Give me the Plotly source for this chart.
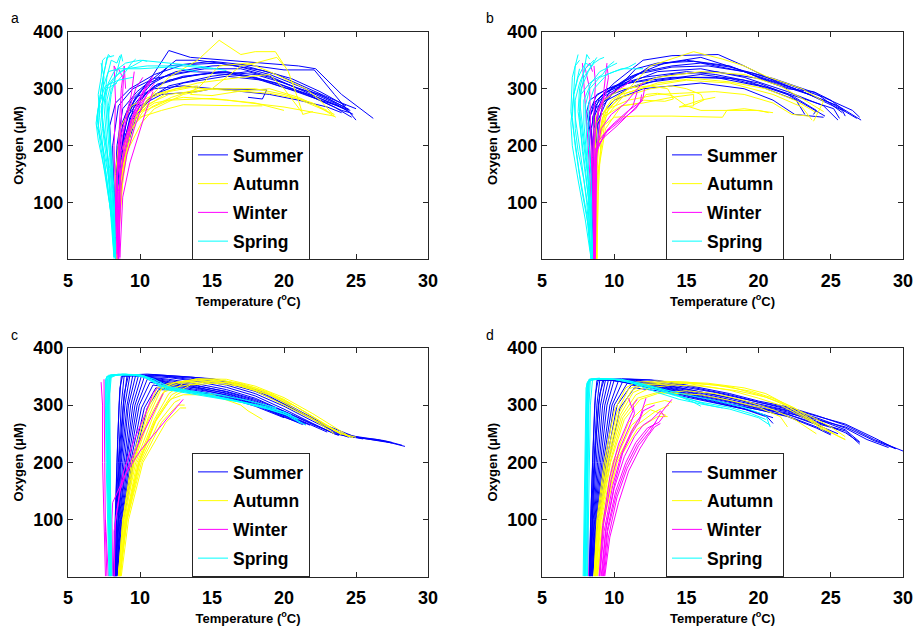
import plotly.graph_objects as go

# ---- season styling ----
SEASONS = ["Summer", "Autumn", "Winter", "Spring"]
SEASON_COLORS = ["#0000ff", "#ffff00", "#ff00ff", "#00ffff"]
PANEL_LABELS = ["a", "b", "c", "d"]
X_TICKS = [5, 10, 15, 20, 25, 30]
Y_TICKS = [100, 200, 300, 400]

# ---- panel a: profiles as (temperature degC, oxygen uM) ----
SUMMER_A = [
    [(8.4, 3), (8.3, 60), (8.5, 150), (8.9, 230), (9.6, 280), (10.8, 320), (12, 367), (13.5, 355), (15, 352), (17, 348), (19, 345), (21, 340), (22.2, 335), (24, 290), (26.2, 248)],
    [(8.3, 5), (8.2, 90), (8.6, 180), (9.2, 260), (10.5, 300), (12, 340), (15, 348), (18, 340), (20, 333), (22.1, 333), (23.5, 290), (25, 245)],
    [(8.3, 2), (8.4, 80), (8.7, 180), (9.3, 250), (10.5, 295), (12, 315), (14, 325), (16, 330), (18, 320), (20, 305), (22, 285), (24, 262), (24.6, 258)],
    [(8.3, 2), (8.2, 100), (8.4, 190), (9.0, 255), (10.2, 300), (12, 325), (14.5, 335), (17, 335), (19, 322), (21, 300), (23, 278), (24.4, 262)],
    [(8.4, 2), (8.5, 120), (8.9, 210), (9.6, 270), (11, 305), (13, 320), (15.5, 330), (18, 325), (20, 310), (22, 292), (23.5, 275), (24.8, 255)],
    [(8.3, 2), (8.3, 140), (8.6, 230), (9.4, 280), (10.6, 310), (12.5, 330), (15, 340), (17, 342), (19.5, 325), (21.5, 303), (23.5, 280), (25, 265)],
    [(8.4, 2), (8.6, 100), (9.0, 190), (9.8, 255), (11, 290), (13, 310), (16, 322), (18.5, 315), (20.5, 298), (22.5, 280), (24, 268), (24.6, 262)],
    [(8.3, 2), (8.2, 120), (8.1, 200), (8.5, 270), (9.5, 300), (11, 318), (13.5, 330), (16, 328), (18, 318), (20, 302), (22, 288), (23.8, 270)],
    [(8.4, 2), (8.5, 100), (8.8, 170), (9.5, 240), (10.5, 280), (12, 305), (15, 322), (17.5, 330), (19, 320), (21, 300), (22.5, 290), (24.2, 268)],
    [(8.3, 2), (8.2, 70), (8.0, 180), (7.9, 235), (8.3, 275), (9.3, 300), (11, 325), (13, 342), (15.5, 345), (17, 338), (19, 325), (21, 305), (23, 283), (24.5, 264)],
    [(8.4, 2), (8.5, 120), (9.0, 220), (10, 270), (11.5, 290), (14, 295), (15, 300), (17.5, 298), (18.8, 298), (18.5, 282), (17.5, 285)],
    [(8.3, 2), (8.4, 150), (8.8, 240), (9.7, 285), (11, 300), (13, 305), (16, 298), (19, 290), (21, 280), (23, 268), (24, 258)],
    [(8.4, 2), (8.3, 110), (8.4, 200), (8.8, 265), (9.8, 295), (11.5, 330), (12.5, 350), (14, 350), (16, 343), (18.5, 332), (20.5, 318), (22.5, 295), (24.3, 270)],
    [(8.3, 2), (8.5, 160), (9.1, 250), (10.1, 285), (11.2, 308), (13, 322), (15, 327), (17.5, 322), (19.5, 310), (21.5, 292), (23.5, 268), (24.7, 250)],
]
AUTUMN_A = [
    [(8.4, 2), (8.5, 100), (8.9, 200), (9.5, 250), (10.5, 280), (12, 320), (14, 350), (15.5, 385), (17, 360), (18, 365), (19.4, 365), (20.3, 330), (21, 280), (21.3, 255), (22, 260)],
    [(8.3, 2), (8.5, 120), (9.0, 210), (9.8, 255), (11, 275), (13, 285), (16, 280), (20, 268), (23.5, 252)],
    [(8.4, 2), (8.6, 130), (9.2, 220), (10.2, 260), (12, 280), (15, 283), (18, 275), (20, 262)],
    [(8.4, 2), (8.8, 150), (9.4, 230), (10.0, 250), (11.5, 262), (13, 272), (17, 270), (18.5, 270)],
    [(8.5, 2), (8.4, 100), (8.9, 200), (9.5, 245), (10.5, 270), (12, 295), (13.5, 302), (16, 298), (19, 292), (21, 282), (23.5, 255)],
    [(8.4, 2), (8.7, 140), (9.3, 230), (10.3, 270), (12, 290), (15, 300), (18, 300), (20, 290), (22, 275), (23.6, 250)],
    [(8.4, 2), (8.3, 150), (8.6, 230), (9.4, 270), (11, 290), (14, 310), (17, 320), (19, 325), (20, 300), (21.2, 260)],
    [(8.4, 2), (8.6, 100), (9.1, 190), (10.1, 240), (11, 265), (13, 290), (15, 300), (17, 340), (18, 345), (19.5, 355), (20, 340)],
    [(8.5, 2), (8.7, 170), (9.5, 250), (10.8, 285), (12.5, 300), (14, 305), (13.5, 290), (15, 288), (17, 296), (19, 300), (21, 285), (23, 262)],
    [(8.4, 2), (8.9, 170), (9.7, 240), (10.8, 268), (12.2, 285), (14, 300), (15.5, 340), (17.5, 345), (19, 330), (21.5, 300), (22.5, 280), (23.4, 255)],
]
WINTER_A = [
    [(8.5, 2), (8.3, 60), (8.4, 140), (8.7, 190), (9.3, 240), (9.9, 280), (10.4, 305), (10.9, 322)],
    [(8.6, 5), (8.5, 90), (8.7, 160), (9.2, 215), (9.7, 255), (10.3, 295), (10.8, 315)],
    [(8.4, 10), (8.5, 120), (8.9, 190), (9.5, 250), (10.1, 290), (10.9, 318)],
    [(8.5, 2), (8.3, 100), (8.2, 200), (8.3, 280), (8.2, 340), (8.4, 330)],
    [(8.5, 2), (8.6, 100), (8.6, 200), (8.8, 280), (8.9, 340), (9.0, 300)],
    [(8.5, 2), (8.4, 150), (8.6, 210), (9.0, 250), (9.4, 290), (9.6, 330)],
    [(8.5, 2), (8.7, 130), (9.1, 185), (9.6, 230), (10.2, 275), (10.7, 300), (11.0, 310)],
    [(8.3, 40), (8.4, 150), (8.8, 220), (9.2, 260), (9.7, 300), (10.2, 320)],
    [(8.6, 2), (8.8, 110), (9.3, 170), (9.9, 220), (10.4, 260), (10.9, 295)],
    [(8.4, 2), (8.4, 100), (8.5, 200), (8.6, 250), (8.7, 300), (8.8, 320), (8.5, 335)],
    [(8.5, 2), (8.6, 140), (8.9, 200), (9.4, 245), (9.9, 268), (10.5, 290), (11.0, 300)],
]
SPRING_A = [
    [(8.3, 2), (8.0, 80), (7.5, 160), (7.1, 230), (7.2, 280), (7.5, 330), (7.8, 360), (8.0, 355)],
    [(8.3, 2), (8.1, 60), (7.7, 140), (7.3, 210), (7.0, 250), (7.3, 300), (7.6, 340), (7.7, 355), (8.2, 358)],
    [(8.2, 5), (8.0, 100), (7.8, 170), (7.6, 230), (7.5, 270), (7.7, 320), (8.0, 350), (8.4, 345), (8.6, 358)],
    [(8.3, 2), (8.1, 90), (7.9, 180), (7.7, 240), (7.6, 280), (7.8, 310), (8.2, 330), (9.0, 345), (10, 350), (12, 345), (14, 340), (16, 332)],
    [(8.3, 2), (8.2, 80), (7.9, 160), (7.5, 220), (7.3, 260), (7.6, 300), (8.2, 320), (9.0, 335), (10.5, 340), (13, 340), (15, 335)],
    [(8.3, 2), (8.2, 120), (8.0, 190), (7.8, 240), (7.7, 280), (8.0, 310), (8.6, 330), (9.5, 340), (10.2, 350), (10.5, 348)],
    [(8.2, 2), (7.9, 100), (7.5, 180), (7.2, 250), (7.1, 290), (7.3, 320), (7.4, 350), (7.6, 355)],
    [(8.3, 2), (8.1, 60), (7.6, 150), (7.1, 210), (6.95, 240), (7.2, 280), (7.6, 305), (8.5, 315), (9.5, 320)],
    [(8.3, 2), (8.2, 100), (8.0, 170), (7.9, 220), (7.8, 270), (8.0, 300), (8.5, 315), (9.0, 330), (9.4, 345), (9.7, 352)],
    [(8.3, 2), (8.0, 110), (7.7, 190), (7.4, 250), (7.4, 300), (7.8, 330), (8.5, 335), (10, 335), (12, 338), (14, 330)],
    [(8.2, 5), (8.0, 90), (7.7, 170), (7.4, 230), (7.3, 270), (7.7, 300), (8.4, 310)],
    [(8.3, 2), (8.1, 120), (7.9, 200), (7.8, 250), (8.0, 290), (8.3, 320), (8.5, 340), (8.7, 360), (8.8, 348)],
    [(8.3, 2), (8.1, 70), (7.8, 150), (7.4, 200), (7.0, 235), (7.1, 265), (7.4, 290), (7.5, 320), (7.3, 345)],
]

# ---- panel b ----
SUMMER_B = [
    [(8.6, 2), (8.6, 100), (8.5, 200), (8.3, 250), (8.8, 280), (10, 310), (12, 350), (14, 358), (17.2, 360), (19, 340), (21, 315), (23, 295), (25.5, 270), (27.1, 245)],
    [(8.6, 2), (8.7, 120), (8.6, 230), (9.0, 270), (10.5, 305), (12.5, 340), (15, 350), (18, 340), (20, 320), (22.5, 300), (25, 275), (26.8, 248)],
    [(8.5, 2), (8.4, 150), (8.2, 240), (8.6, 275), (9.5, 295), (11, 320), (13.5, 345), (16, 355), (18.5, 335), (21, 310), (23.5, 290), (25.8, 262), (26, 252)],
    [(8.6, 2), (8.5, 160), (8.6, 250), (9.2, 285), (10.5, 305), (13, 330), (16, 335), (19, 320), (22, 295), (24.5, 270), (25.5, 245)],
    [(8.7, 2), (8.6, 130), (8.8, 240), (9.5, 280), (11, 300), (13, 315), (16, 325), (19, 315), (22, 290), (24.2, 258), (24.6, 252)],
    [(8.6, 2), (8.5, 180), (8.3, 260), (8.8, 290), (10, 305), (12, 320), (15, 330), (17, 325), (20, 310), (22.5, 285), (24, 262), (23.8, 255)],
    [(8.6, 2), (8.7, 150), (9.0, 250), (10, 280), (12, 300), (14, 305), (16, 310), (19, 300), (21, 280), (22.5, 255), (24.5, 250)],
    [(8.6, 2), (8.5, 200), (8.7, 270), (9.5, 295), (11, 310), (14, 325), (17, 330), (20, 318), (22, 300), (23.8, 295), (25, 280), (26, 260)],
    [(8.7, 2), (8.6, 150), (8.4, 230), (8.7, 265), (9.8, 290), (12, 310), (15, 320), (18, 318), (21, 300), (23, 283), (25.2, 265), (25.6, 248)],
    [(8.6, 2), (8.6, 100), (8.7, 220), (9.2, 270), (10.2, 300), (11.5, 335), (13, 345), (15.5, 348), (18, 338), (21, 318), (24, 292), (25.8, 258)],
    [(8.7, 2), (8.8, 150), (8.5, 250), (9.0, 285), (10.5, 310), (12, 330), (14, 340), (16, 345), (19, 330), (22, 305), (24, 285)],
    [(8.6, 2), (8.4, 120), (8.5, 200), (8.1, 260), (8.3, 280), (9.5, 300), (11, 310), (14, 320), (17, 320), (20, 305), (22.6, 280), (23.2, 255)],
    [(8.6, 2), (8.7, 180), (8.9, 260), (9.8, 300), (11.5, 325), (14, 338), (16.5, 340), (19.5, 328), (22, 308), (24.5, 285), (26.5, 262), (27, 250)],
]
AUTUMN_B = [
    [(8.8, 2), (8.7, 100), (8.8, 200), (9.2, 250), (10.5, 270), (12, 275), (14, 285), (15.5, 290), (15.5, 270), (14.5, 268), (16, 280), (17, 285)],
    [(8.7, 2), (8.8, 150), (9.0, 230), (10, 250), (11.5, 252), (14, 252), (17.5, 250), (17.8, 262), (19, 265), (21, 258)],
    [(8.7, 2), (8.6, 150), (8.8, 240), (9.8, 280), (11, 300), (12.5, 340), (15.5, 365), (17.5, 352), (19, 340), (20.5, 322), (23, 300), (24.5, 278), (23.8, 243)],
    [(8.7, 2), (8.8, 180), (9.3, 260), (10.5, 285), (12.5, 300), (14, 305), (15, 300), (16, 290), (16.2, 280), (15.5, 272)],
    [(8.8, 2), (8.9, 120), (9.1, 220), (9.6, 265), (11, 280), (13, 290), (14.5, 292), (17, 295), (19, 290), (21, 275), (22.3, 255), (23.5, 252)],
    [(8.7, 2), (8.7, 170), (9.2, 250), (10.5, 290), (12.5, 305), (15, 315), (18, 310), (21, 290), (23, 268), (23.7, 245)],
    [(8.8, 2), (8.8, 140), (9.4, 230), (10.5, 270), (11.8, 275), (12.2, 290), (13, 292), (14, 288), (15, 270), (16, 262), (20, 262), (20.7, 258)],
    [(8.7, 2), (8.8, 190), (9.5, 270), (11, 300), (13, 320), (16, 330), (19, 325), (21.5, 305), (23, 283), (24.5, 260)],
    [(8.7, 2), (8.6, 140), (8.7, 250), (9.3, 280), (10.5, 300), (12.5, 305), (13.7, 300), (14.1, 282), (13.5, 278), (12, 280)],
    [(8.8, 2), (8.9, 160), (9.4, 250), (10.8, 292), (13, 310), (15.5, 318), (18, 312), (20.5, 300), (22.5, 280), (24, 258)],
]
WINTER_B = [
    [(8.6, 2), (8.6, 100), (8.7, 180), (8.9, 200), (9.5, 225), (10.5, 245), (11.5, 265), (12, 285), (12.1, 300)],
    [(8.6, 2), (8.6, 150), (8.7, 195), (9.3, 215), (10.2, 235), (11, 255), (11.8, 275), (11.9, 290)],
    [(8.7, 2), (8.7, 120), (8.8, 205), (9.6, 230), (10.6, 250), (11.3, 270), (11.6, 295)],
    [(8.5, 2), (8.4, 100), (8.2, 200), (8.0, 280), (7.9, 320), (7.8, 345)],
    [(8.6, 2), (8.5, 120), (8.4, 230), (8.3, 300), (8.0, 335), (8.3, 345), (8.5, 330)],
    [(8.6, 2), (8.7, 160), (9.0, 240), (9.2, 270), (9.3, 300), (9.4, 330), (9.5, 345)],
    [(8.6, 2), (8.6, 200), (8.8, 250), (9.2, 280), (10, 295), (10.7, 305), (11.2, 315)],
    [(8.7, 2), (8.7, 180), (9.1, 230), (9.8, 255), (10.8, 275), (11.6, 300), (12, 310)],
    [(8.6, 2), (8.5, 180), (8.6, 260), (8.7, 310), (8.6, 340)],
    [(8.7, 2), (8.8, 190), (9.3, 220), (10, 240), (11, 262), (12, 280)],
    [(8.6, 2), (8.6, 210), (8.9, 265), (9.4, 290), (9.6, 320), (9.5, 340)],
]
SPRING_B = [
    [(8.4, 2), (8.2, 60), (7.7, 130), (7.3, 200), (7.1, 250), (7.2, 300), (7.3, 340), (7.6, 350)],
    [(8.4, 2), (8.1, 80), (7.6, 150), (7.2, 220), (7.0, 260), (7.1, 320), (7.4, 350), (7.5, 360)],
    [(8.5, 2), (8.3, 90), (8.0, 160), (7.7, 220), (7.5, 260), (7.6, 300), (7.9, 330), (8.1, 360), (8.3, 352)],
    [(8.5, 2), (8.3, 100), (8.1, 180), (7.9, 240), (7.9, 280), (8.4, 310), (9.0, 330), (9.8, 340), (10.2, 345)],
    [(8.4, 2), (8.2, 110), (7.8, 190), (7.6, 250), (7.7, 300), (8.2, 330), (8.6, 345), (9.0, 352), (9.3, 355)],
    [(8.5, 2), (8.3, 130), (8.1, 210), (8.0, 270), (8.3, 300), (9.0, 320), (10, 330), (11, 338), (11.5, 345)],
    [(8.4, 2), (8.0, 70), (7.5, 140), (7.1, 200), (7.0, 240), (7.2, 290), (7.6, 335)],
    [(8.5, 2), (8.4, 80), (8.1, 170), (7.8, 230), (7.6, 280), (7.9, 320), (8.4, 340), (8.8, 355)],
    [(8.5, 2), (8.4, 150), (8.2, 230), (8.2, 270), (8.6, 300), (9.5, 325), (10.5, 335), (12, 335)],
    [(8.4, 2), (8.1, 100), (7.7, 180), (7.3, 250), (7.2, 290), (7.5, 320), (8.0, 345), (8.4, 340)],
    [(8.5, 2), (8.3, 120), (7.9, 200), (7.6, 260), (7.7, 290), (8.3, 310), (9.2, 325), (9.6, 340), (10, 348)],
    [(8.4, 2), (8.2, 90), (7.9, 140), (7.5, 190), (7.3, 230), (7.3, 280), (7.6, 310), (8.0, 335), (8.6, 350)],
]

# ---- panel c (model) ----
SUMMER_C = [
    [(8.15, 2), (8.25, 100), (8.4, 200), (8.55, 300), (8.7, 350), (11, 353), (13.5, 349), (15, 345), (17, 335), (19, 315), (21, 288), (23, 262), (24.5, 245), (26.5, 240), (28.4, 228)],
    [(8.2, 2), (8.3, 100), (8.5, 200), (8.7, 300), (8.9, 351), (11.5, 351), (14, 343), (16, 335), (18, 320), (20, 298), (22, 272), (24, 248), (26, 240), (27.5, 234)],
    [(8.2, 2), (8.35, 100), (8.6, 200), (8.85, 300), (9.1, 352), (12, 348), (14, 341), (16, 331), (18, 316), (20, 293), (22, 268), (23.5, 250), (25.5, 241)],
    [(8.25, 2), (8.4, 100), (8.65, 200), (8.95, 300), (9.3, 352), (12, 345), (14, 337), (16, 327), (18, 312), (20, 290), (21.5, 273), (23, 256), (24.5, 244)],
    [(8.25, 2), (8.45, 100), (8.7, 200), (9.1, 300), (9.5, 352), (12, 343), (14, 334), (16, 323), (18, 308), (20, 286), (21.5, 270), (23, 253)],
    [(8.3, 2), (8.5, 100), (8.8, 200), (9.2, 300), (9.7, 352), (12, 341), (14, 331), (16, 320), (18, 304), (20, 283), (21.5, 268)],
    [(8.3, 2), (8.5, 100), (8.9, 200), (9.35, 300), (9.9, 352), (12, 339), (14, 329), (16, 317), (18, 301), (20, 280), (21.3, 266)],
    [(8.3, 2), (8.55, 100), (9.0, 200), (9.5, 300), (10.1, 351), (12, 338), (14, 333), (16, 324), (18, 310), (20, 289), (22, 266), (23.8, 247)],
    [(8.35, 2), (8.6, 100), (9.05, 200), (9.65, 300), (10.3, 349), (12, 336), (14, 330), (16, 321), (18, 306), (20, 285), (21.8, 265)],
    [(8.35, 2), (8.65, 100), (9.15, 200), (9.8, 300), (10.5, 345), (12, 335), (14, 327), (16, 318), (18, 302), (20, 281), (21.5, 266)],
    [(8.35, 2), (8.7, 100), (9.25, 200), (9.95, 300), (10.7, 340), (12, 333), (14, 325), (16, 315), (18, 300), (20, 279), (21, 270)],
    [(8.4, 2), (8.75, 100), (9.35, 200), (10.1, 295), (10.9, 335), (12, 331), (14, 323), (16, 313), (18, 298), (20, 278)],
    [(8.4, 2), (8.8, 100), (9.45, 200), (10.3, 295), (11.1, 330), (12.5, 328), (14.5, 320), (16.5, 310), (18.5, 296), (20, 283)],
    [(8.4, 2), (8.85, 100), (9.55, 200), (10.5, 295), (11.3, 327), (12.5, 326), (14.5, 318), (17, 306), (19, 292), (20.5, 278)],
    [(8.2, 2), (8.3, 120), (8.45, 240), (8.6, 330), (8.8, 352), (10.5, 354), (13, 350), (15, 346), (17, 336), (19, 318), (21, 291), (23, 264), (24.8, 246), (27, 238), (28.2, 230)],
    [(8.25, 2), (8.4, 120), (8.6, 230), (8.9, 320), (9.2, 352), (11, 352), (13.5, 347), (16, 338), (18, 324), (20, 302), (22, 276), (23.5, 254), (25.5, 242), (27.5, 235)],
]
AUTUMN_C = [
    [(8.5, 2), (8.8, 100), (9.5, 200), (10.6, 280), (11.5, 330), (12.5, 340), (14, 345), (16, 342), (18, 330), (20, 310), (22, 280), (23.5, 255), (24.8, 243)],
    [(8.5, 2), (8.9, 100), (9.7, 200), (10.9, 280), (11.8, 330), (13, 340), (15, 345), (17, 338), (19, 322), (21, 295), (22.5, 272), (24, 248)],
    [(8.6, 2), (9.0, 100), (9.8, 200), (11.0, 275), (12.0, 320), (13, 338), (15, 342), (17, 335), (19, 318), (21, 290), (23, 262), (24.5, 245)],
    [(8.6, 2), (9.0, 100), (9.9, 200), (11.2, 280), (12.2, 318), (13.5, 335), (16, 340), (18, 325), (20, 300), (22, 275), (23.5, 250)],
    [(8.6, 2), (9.1, 100), (10.0, 200), (11.3, 270), (12.4, 305), (12.8, 310)],
    [(8.6, 2), (9.1, 100), (10.1, 200), (11.5, 270), (12.6, 300), (13.1, 300)],
    [(8.7, 2), (9.2, 100), (10.2, 200), (11.8, 270), (12.8, 295), (13.2, 295)],
    [(8.5, 2), (8.8, 100), (9.4, 200), (10.3, 280), (11.2, 330), (12, 338), (14, 343), (16.5, 338), (18.5, 325), (20.5, 302), (22, 280), (24, 250), (25, 244)],
    [(8.6, 2), (8.95, 100), (9.6, 200), (10.6, 275), (11.6, 322), (12.6, 332), (14.5, 340), (17, 333), (19, 318), (20.5, 300)],
    [(8.6, 2), (9.05, 100), (9.9, 200), (11.0, 270), (12.1, 310), (13, 318), (15, 318), (17, 300), (17.5, 290), (18.5, 275)],
    [(8.55, 2), (8.85, 100), (9.55, 200), (10.5, 285), (11.3, 325), (12.3, 338), (14, 346), (16, 345), (18, 333), (20, 313), (22, 285), (23.5, 262), (24.5, 246)],
    [(8.65, 2), (9.05, 100), (9.95, 200), (11.1, 272), (12.0, 306), (12.5, 318), (13.2, 326)],
]
WINTER_C = [
    [(7.6, 2), (7.5, 100), (7.4, 200), (7.4, 300), (7.3, 340)],
    [(7.7, 2), (7.6, 80), (7.55, 200), (7.5, 300), (7.5, 345)],
    [(7.8, 2), (7.7, 50), (7.6, 100)],
    [(8.1, 2), (8.05, 100), (8.1, 130), (9.0, 180), (10.0, 220), (11.5, 265), (13.0, 310)],
    [(8.2, 2), (8.2, 80), (8.6, 150), (9.3, 200), (10.2, 250), (11.0, 290), (11.6, 320)],
    [(8.2, 2), (8.3, 100), (8.8, 180), (9.6, 240), (10.3, 280), (10.9, 320), (11.2, 330)],
]
SPRING_C = [
    [(7.9, 2), (7.8, 100), (7.7, 200), (7.65, 300), (7.6, 345), (7.8, 352), (9, 353), (10, 352), (11, 340), (11.6, 328), (13, 322), (15, 314), (17, 305), (19, 292), (20.5, 280), (21.5, 265)],
    [(7.95, 2), (7.85, 100), (7.75, 200), (7.7, 300), (7.7, 348), (8, 353), (9.5, 352), (10.5, 348), (11.5, 335), (12.5, 328), (14, 322), (16, 312), (18, 300), (20, 288), (21, 275)],
    [(8.0, 2), (7.9, 100), (7.8, 200), (7.75, 300), (7.8, 350), (8.5, 354), (10, 353), (11, 345), (12, 332), (13.5, 325), (15.5, 318), (17.5, 308), (19.5, 295)],
    [(8.0, 2), (7.95, 100), (7.85, 200), (7.8, 300), (7.9, 352), (9, 354), (10.2, 350), (11.2, 336), (12, 328), (14, 320), (16, 310), (18, 300), (20, 285), (21.2, 268)],
    [(7.85, 2), (7.75, 100), (7.65, 200), (7.6, 300), (7.6, 340), (7.7, 350), (8.5, 352)],
    [(7.9, 2), (7.85, 100), (7.8, 200), (7.8, 300), (7.85, 345), (8.2, 353), (9.8, 353), (11.0, 342), (11.8, 330), (13, 325), (15, 316), (16.5, 308)],
    [(8.05, 2), (8.0, 100), (7.9, 200), (7.85, 300), (7.95, 350), (8.8, 354), (10.3, 351), (11.3, 334), (12.5, 327), (14.5, 318), (17, 306), (19, 296), (20.5, 283)],
    [(7.95, 2), (7.9, 100), (7.85, 200), (7.75, 300), (7.75, 346), (8.1, 352), (9.2, 353)],
    [(8.0, 2), (7.95, 150), (7.9, 250), (7.9, 320), (8.0, 348), (8.4, 353)],
    [(7.9, 2), (7.8, 150), (7.7, 250), (7.65, 320), (7.7, 350)],
]

# ---- panel d (model) ----
SUMMER_D = [
    [(8.25, 2), (8.35, 100), (8.5, 200), (8.65, 300), (8.8, 343), (11, 345), (13, 343), (15, 335), (18, 320), (20, 307), (22, 297), (24, 282), (26, 265), (28, 240), (30, 220)],
    [(8.3, 2), (8.4, 100), (8.6, 200), (8.8, 300), (9.0, 343), (11.5, 344), (14, 335), (17, 322), (20, 305), (22, 293), (24, 278), (26, 260), (27.5, 240), (29, 226)],
    [(8.3, 2), (8.45, 100), (8.65, 200), (8.9, 300), (9.2, 344), (12, 340), (15, 328), (18, 313), (20, 300), (22, 290), (24, 272), (26, 252), (27, 235)],
    [(8.35, 2), (8.5, 100), (8.75, 200), (9.05, 300), (9.4, 344), (12, 337), (15, 323), (18, 306), (20, 296), (22, 284), (24, 266), (25.5, 250)],
    [(8.35, 2), (8.55, 100), (8.85, 200), (9.2, 300), (9.6, 344), (12.5, 333), (15, 320), (18, 302), (20, 292), (22, 280), (24, 260), (25, 248)],
    [(8.4, 2), (8.6, 100), (8.95, 200), (9.35, 300), (9.8, 344), (13, 328), (15, 317), (17, 306), (19, 294), (20.5, 282), (21, 268)],
    [(8.4, 2), (8.65, 100), (9.05, 200), (9.5, 300), (10.0, 344), (12, 339), (15, 326), (18, 310), (20, 299), (22, 288), (24, 270), (26, 255), (27, 232)],
    [(8.45, 2), (8.7, 100), (9.15, 200), (9.7, 300), (10.3, 343), (12.5, 336), (15, 324), (18, 307), (20, 296), (22, 286), (24, 275), (26, 262), (28, 238), (29.5, 224)],
    [(8.45, 2), (8.75, 100), (9.25, 200), (9.85, 300), (10.6, 342), (12.5, 334), (15, 321), (18, 304), (20, 294), (22, 284), (24, 268), (25.5, 258)],
    [(8.5, 2), (8.8, 100), (9.35, 200), (10.0, 300), (10.9, 338), (13, 330), (15, 319), (18, 302), (20, 292), (22, 281), (24, 262), (25, 250)],
    [(8.5, 2), (8.85, 100), (9.45, 200), (10.2, 300), (11.2, 335), (13, 328), (15, 316), (17.5, 302), (19.5, 290), (21, 278)],
    [(8.5, 2), (8.9, 100), (9.6, 200), (10.4, 295), (11.4, 330), (13, 325), (15, 314), (17, 304), (19, 293), (20.5, 280)],
    [(8.3, 2), (8.4, 120), (8.55, 230), (8.7, 320), (8.9, 344), (10.5, 346), (12.5, 344), (15, 333), (18, 318), (20, 305), (22, 295), (24, 281), (26, 267), (28, 243), (29.5, 224)],
    [(8.35, 2), (8.5, 120), (8.7, 230), (9.0, 320), (9.3, 344), (11.5, 343), (14, 333), (17, 318), (20, 302), (22, 291), (24, 276), (26, 257), (27, 236)],
]
AUTUMN_D = [
    [(8.6, 2), (8.8, 100), (9.3, 200), (10.0, 290), (10.8, 330), (11.5, 340), (13, 342), (15, 340), (18, 332), (20, 318), (21.5, 305), (22.5, 290), (24, 268), (25.5, 246), (26, 240)],
    [(8.65, 2), (8.9, 100), (9.5, 200), (10.3, 285), (11.2, 325), (12, 335), (14, 340), (17, 335), (19.5, 324), (21, 312), (22.5, 295), (24, 270), (25, 252)],
    [(8.7, 2), (9.0, 100), (9.6, 200), (10.5, 280), (11.5, 318), (12.5, 330), (14, 335), (16, 333), (18.5, 325), (20.5, 314), (22, 298), (23.5, 275), (24.5, 255)],
    [(8.7, 2), (9.05, 100), (9.75, 200), (10.7, 275), (11.8, 310), (13, 320), (15, 325), (17, 320), (19, 308), (21, 292), (22.5, 275), (24, 250)],
    [(8.75, 2), (9.1, 100), (9.9, 200), (11.0, 270), (12.2, 300), (13.5, 308), (14, 305)],
    [(8.8, 2), (9.2, 100), (10.0, 200), (11.2, 265), (12.5, 292), (13.6, 282)],
    [(8.8, 2), (9.25, 100), (10.1, 200), (11.4, 262), (12.8, 288), (13.8, 300)],
    [(8.85, 2), (9.3, 100), (10.2, 200), (11.6, 258), (13.0, 280), (13.7, 280)],
    [(8.65, 2), (8.95, 100), (9.55, 200), (10.4, 282), (11.3, 322), (12.5, 335), (15, 338), (18, 326), (20, 312), (21.5, 300), (23, 280), (24.5, 258), (26, 240)],
    [(8.7, 2), (9.0, 100), (9.7, 200), (10.6, 278), (11.6, 312), (13, 322), (16, 318), (18, 308), (20, 296), (21.5, 280), (22, 262)],
    [(8.6, 2), (8.85, 100), (9.4, 200), (10.2, 288), (11.0, 328), (12, 338), (14, 341), (16.5, 338), (19, 330), (20.5, 320), (22, 300), (23.5, 282), (25, 262), (26, 245)],
]
WINTER_D = [
    [(9.0, 2), (9.3, 80), (9.9, 160), (10.5, 215), (11.2, 255), (11.8, 280), (12.2, 312)],
    [(9.1, 2), (9.4, 80), (10.0, 155), (10.7, 210), (11.4, 245), (12.0, 265), (12.6, 275), (13.2, 290), (13.5, 280)],
    [(9.2, 2), (9.5, 80), (10.1, 150), (10.8, 200), (11.5, 235), (12.3, 260), (13.1, 270), (13.4, 280)],
    [(9.3, 2), (9.6, 70), (10.2, 140), (10.9, 190), (11.7, 230), (12.5, 255), (13.2, 285), (14.0, 310)],
    [(9.0, 2), (9.25, 90), (9.8, 170), (10.4, 225), (11.0, 260), (11.4, 285), (11.3, 300), (11.6, 310)],
    [(9.15, 2), (9.45, 90), (10.05, 165), (10.6, 218), (11.2, 250), (11.7, 270), (12.0, 290), (12.8, 300)],
    [(9.35, 2), (9.7, 70), (10.3, 130), (11.0, 185), (11.8, 225), (12.3, 245), (12.8, 262), (13.2, 268)],
    [(8.95, 2), (9.2, 90), (9.7, 175), (10.3, 232), (10.9, 268), (11.3, 290), (11.0, 312)],
    [(8.2, 2), (8.15, 150), (8.1, 300), (8.2, 340)],
    [(9.25, 2), (9.55, 80), (10.15, 145), (10.85, 195), (11.6, 232), (12.4, 258), (12.9, 270)],
]
SPRING_D = [
    [(7.95, 2), (8.0, 100), (8.05, 200), (8.1, 300), (8.15, 340), (8.4, 346), (9, 346), (10.5, 344), (11.5, 336), (13, 322), (14.5, 310), (16, 302), (18, 293), (20, 278), (20.8, 265)],
    [(8.0, 2), (8.05, 100), (8.1, 200), (8.15, 300), (8.2, 340), (8.6, 346), (10, 345), (11, 340), (12.5, 330), (14, 318), (16, 305), (18, 296), (19.5, 285), (20.5, 275)],
    [(8.05, 2), (8.1, 100), (8.15, 200), (8.2, 300), (8.25, 342), (8.8, 346), (10, 345), (12, 335), (13.5, 325), (15, 312), (16.5, 300), (17.5, 295)],
    [(7.9, 2), (7.95, 100), (8.0, 200), (8.05, 300), (8.1, 338), (8.3, 345), (9.5, 346), (11, 342), (12.5, 333), (14, 320), (15.5, 305), (16, 298)],
    [(8.1, 2), (8.15, 100), (8.2, 200), (8.25, 300), (8.35, 343), (9.2, 346), (10.5, 345), (11.8, 338), (13, 330), (15, 318), (17, 308), (19, 296), (20.5, 282), (20.8, 262)],
    [(8.0, 2), (8.0, 100), (8.08, 200), (8.12, 300), (8.3, 344)],
    [(8.15, 2), (8.2, 100), (8.3, 200), (8.35, 300), (8.5, 345), (9.5, 345)],
    [(7.85, 2), (7.9, 100), (7.95, 200), (8.0, 300), (8.05, 330), (8.2, 342)],
    [(7.95, 2), (8.0, 150), (8.05, 250), (8.1, 320), (8.25, 345), (9.0, 347)],
]

PANELS = [
    (SUMMER_A, AUTUMN_A, WINTER_A, SPRING_A),
    (SUMMER_B, AUTUMN_B, WINTER_B, SPRING_B),
    (SUMMER_C, AUTUMN_C, WINTER_C, SPRING_C),
    (SUMMER_D, AUTUMN_D, WINTER_D, SPRING_D),
]

# ---- layout geometry (paper fractions) ----
W, H = 914, 626
X_DOMAINS = [(68 / W, 428 / W), (542 / W, 903 / W)]
Y_DOMAINS = [(1 - 259.3 / H, 1 - 31.7 / H), (1 - 576.7 / H, 1 - 347.7 / H)]
LEGEND_POS = [(192 / W, 1 - 136 / H), (666 / W, 1 - 136 / H),
              (192 / W, 1 - 453 / H), (666 / W, 1 - 453 / H)]
LABEL_POS = [(9 / W, 1 - 8 / H), (484 / W, 1 - 8 / H),
             (9 / W, 1 - 325 / H), (484 / W, 1 - 325 / H)]

FONT = "Liberation Sans, Arial, sans-serif"
AXIS_COLOR = "#262626"

fig = go.Figure()
for p, seasons in enumerate(PANELS):
    xa = "x" if p == 0 else f"x{p + 1}"
    ya = "y" if p == 0 else f"y{p + 1}"
    leg = "legend" if p == 0 else f"legend{p + 1}"
    for s, profiles in enumerate(seasons):
        xs, ys = [], []
        for prof in profiles:
            xs += [pt[0] for pt in prof] + [None]
            ys += [pt[1] for pt in prof] + [None]
        fig.add_trace(go.Scatter(
            x=xs, y=ys, mode="lines", name=f"<b>{SEASONS[s]}</b>",
            line=dict(color=SEASON_COLORS[s], width=1),
            xaxis=xa, yaxis=ya, legend=leg, legendgroup=f"{p}-{s}",
            hoverinfo="skip", connectgaps=False,
        ))

layout = dict(
    width=W, height=H, margin=dict(l=0, r=0, t=0, b=0),
    paper_bgcolor="white", plot_bgcolor="white", showlegend=True,
)
for p in range(4):
    row, col = divmod(p, 2)
    xkey = "xaxis" if p == 0 else f"xaxis{p + 1}"
    ykey = "yaxis" if p == 0 else f"yaxis{p + 1}"
    xref = "y" if p == 0 else f"y{p + 1}"
    yref = "x" if p == 0 else f"x{p + 1}"
    layout[xkey] = dict(
        domain=X_DOMAINS[col], anchor=xref, range=[5, 30], tickvals=X_TICKS,
        ticks="inside", ticklen=5, tickcolor=AXIS_COLOR, showline=True,
        linecolor=AXIS_COLOR, linewidth=1, mirror="ticks", showgrid=False,
        zeroline=False, ticklabelstandoff=5,
        tickfont=dict(family=FONT, size=18, color="black", weight="bold"),
        title=dict(text="Temperature (<sup>o</sup>C)", standoff=6,
                   font=dict(family=FONT, size=13, color="black", weight="bold")),
        automargin=False,
    )
    layout[ykey] = dict(
        domain=Y_DOMAINS[row], anchor=yref, range=[1, 400], tickvals=Y_TICKS,
        ticks="inside", ticklen=5, tickcolor=AXIS_COLOR, showline=True,
        linecolor=AXIS_COLOR, linewidth=1, mirror="ticks", showgrid=False,
        zeroline=False, ticklabelstandoff=0,
        tickfont=dict(family=FONT, size=18, color="black", weight="bold"),
        title=dict(text="Oxygen (\u03bcM)", standoff=6,
                   font=dict(family=FONT, size=13, color="black", weight="bold")),
        automargin=False,
    )
    leg = "legend" if p == 0 else f"legend{p + 1}"
    layout[leg] = dict(
        x=LEGEND_POS[p][0], y=LEGEND_POS[p][1], xanchor="left", yanchor="top",
        xref="paper", yref="paper", bgcolor="white", bordercolor=AXIS_COLOR,
        borderwidth=1, itemwidth=30, tracegroupgap=3,
        font=dict(family=FONT, size=17.5, color="black"),
    )

fig.update_layout(**layout)
for p in range(4):
    fig.add_annotation(
        text=PANEL_LABELS[p], x=LABEL_POS[p][0], y=LABEL_POS[p][1],
        xref="paper", yref="paper", xanchor="left", yanchor="top",
        showarrow=False, font=dict(family=FONT, size=14, color="black"),
    )

fig.write_html("out.html")
